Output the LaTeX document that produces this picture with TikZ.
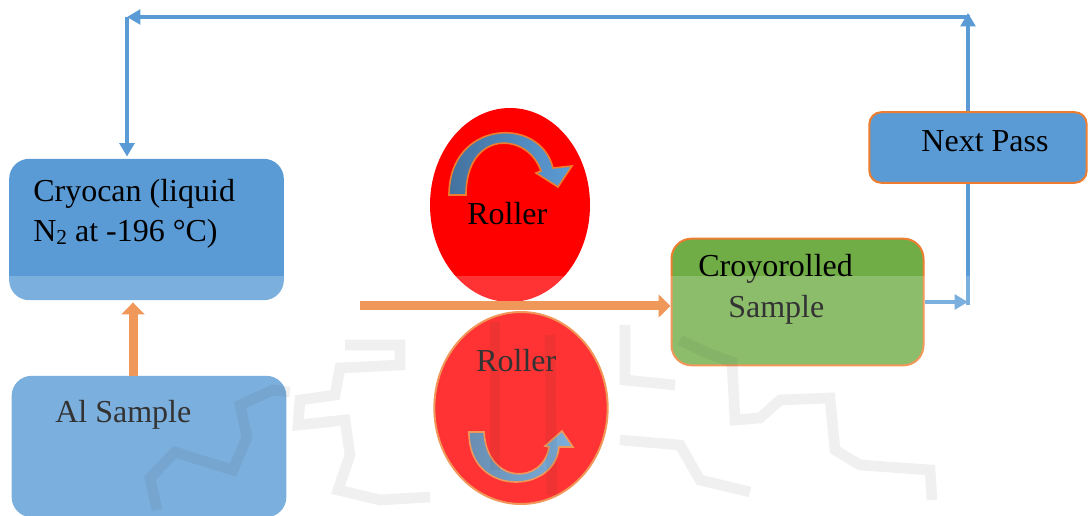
\documentclass[tikz,border=0pt]{standalone}
\usepackage{fontspec}
\setmainfont{Liberation Serif}
\newfontfamily\diagfont{Liberation Serif}
\usetikzlibrary{arrows.meta,shapes.geometric}
\definecolor{oblue}{HTML}{5B9BD5}
\definecolor{dblue}{HTML}{44729E}
\definecolor{oorange}{HTML}{ED7D31}
\definecolor{ogreen}{HTML}{70AD47}
\begin{document}
\begin{tikzpicture}[x=0.75pt,y=-0.75pt,
  txt/.style={font=\diagfont\fontsize{24}{29}\selectfont, inner sep=0, anchor=base west},
  bigbox/.style={rectangle, rounded corners=15pt, fill=oblue, minimum width=206pt, minimum height=106pt, inner sep=0},
  passbox/.style={rectangle, rounded corners=9pt, fill=oblue, draw=oorange, line width=1.5pt, minimum width=163pt, minimum height=53pt, inner sep=0},
  greenbox/.style={rectangle, rounded corners=15pt, fill=ogreen, draw=oorange, line width=1.5pt, minimum width=189pt, minimum height=95pt, inner sep=0},
  rollertop/.style={ellipse, fill=red, inner sep=0, minimum width=120pt, minimum height=145.5pt},
  rollerbot/.style={ellipse, fill=red, draw=oorange, line width=1.5pt, inner sep=0, minimum width=130pt, minimum height=144pt},
  oarrow/.style={draw=oorange, line width=6.75pt, -{Triangle[width=17pt,length=9pt]}},
  barrow/.style={draw=oblue, line width=3.4pt, -{Triangle[width=11pt,length=10pt]}},
  bline/.style={draw=oblue, line width=3.4pt},
  curvearrow/.style={draw=oorange, line width=1.2pt, left color=dblue, right color=oblue},
  smudge/.style={draw=black, draw opacity=0.075, line width=8pt, line join=miter}
]
\useasboundingbox (0,0) rectangle (1088,516);

% boxes
\node[bigbox] (cryo) at (146.5,229.5) {};
\node[bigbox] (al) at (149,446.5) {};
\node[passbox] (np) at (978,147.5) {};
\node[greenbox] (cs) at (797.5,302) {};

% rollers
\node[rollertop] (r1) at (510,205) {};
\node[rollerbot] (r2) at (521,408) {};

% rotation arrows inside the rollers
\path[curvearrow] (449,195) .. controls (449,120) and (540,115) .. (553,168)
  -- (572,166) -- (558,187) -- (536,173) -- (541,171)
  .. controls (527,131) and (466,130) .. (466,195) -- cycle;
\path[curvearrow] (469,432) .. controls (468,497) and (555,495) .. (559,447)
  -- (573,447) -- (562,431) -- (545,446) -- (549,447)
  .. controls (543,485) and (487,485) .. (484,432) -- cycle;

% texts
\node[txt] (t1) at (33,202) {Cryocan (liquid};
\node[txt] (t2) at (33,242) {N{\fontsize{16}{16}\selectfont\raisebox{-2pt}{2}} at -196 °C)};
\node[txt] (t3) at (55,422) {Al Sample};
\node[txt, anchor=base] (t4) at (985,152) {Next Pass};
\node[txt] (t5) at (698,277) {Croyorolled};
\node[txt] (t6) at (728,318) {Sample};
\node[txt] (t7) at (467,225) {Roller};
\node[txt] (t8) at (476,372) {Roller};

% coordinates of the loop
\coordinate (feed) at (360,306);
\coordinate (j) at (968,302);
\coordinate (tr) at (968,13);
\coordinate (tl) at (127,17);

% orange arrows
\draw[oarrow, shorten >=1.5pt] ([xshift=-12pt]al.north) -- ([xshift=-12pt]al.north |- cryo.south);
\draw[oarrow] (feed) -- (feed -| cs.west);

% blue loop
\draw[barrow] (cs.east) -- (j);
\draw[bline, shorten <=-2pt] (j) -- (j |- np.south);
\draw[barrow] (j |- np.north) -- (tr);
\draw[barrow, shorten <=-1.5pt] (tr |- tl) -- (tl);
\draw[barrow, shorten >=1.5pt] (tl) -- (tl |- cryo.north);

% faint scanned squiggles in the lower part
\draw[smudge] (157,510) -- (150,478) -- (175,452) -- (200,460) -- (233,470) -- (247,437) -- (240,405) -- (273,390) -- (290,392);
\draw[smudge] (345,345) -- (400,345) -- (400,365) -- (340,368) -- (335,395) -- (300,400) -- (298,425) -- (345,420) -- (350,455) -- (338,490) -- (380,500) -- (430,497);
\draw[smudge] (495,322) -- (495,470);
\draw[smudge] (550,335) -- (552,495);
\draw[smudge] (680,340) -- (705,352) -- (732,362) -- (735,420) -- (760,418) -- (780,400) -- (830,398) -- (835,450) -- (860,465) -- (930,470) -- (932,500);
\draw[smudge] (625,325) -- (625,380) -- (675,385);
\draw[smudge] (620,440) -- (680,445) -- (700,480) -- (750,492);

% pale scanned overlay over the lower part
\fill[white, opacity=0.2] (0,276) rectangle (1088,516);
\end{tikzpicture}
\end{document}
